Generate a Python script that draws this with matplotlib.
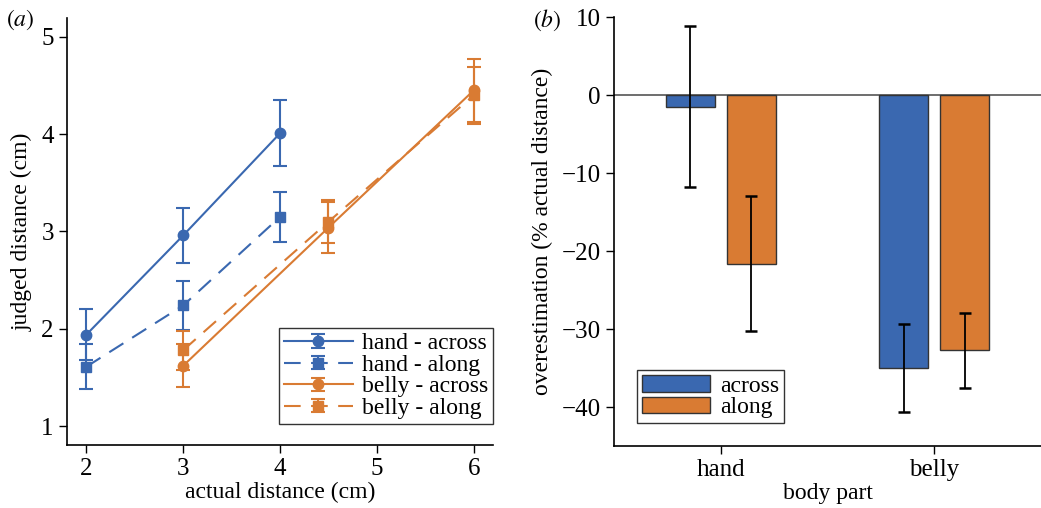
import matplotlib
matplotlib.use('Agg')
import matplotlib.pyplot as plt
from matplotlib.legend_handler import HandlerErrorbar
from matplotlib.container import ErrorbarContainer
import numpy as np

plt.rcParams['font.family'] = ['Liberation Serif', 'DejaVu Serif']
plt.rcParams['mathtext.fontset'] = 'stix'

BLUE = '#3a68b0'
ORANGE = '#d97b33'

# ── panel (a): judged vs actual distance ─────────────────────────────────────
hand_x = [2, 3, 4]
hand_across = [1.94, 2.96, 4.01]
hand_across_err = [0.26, 0.28, 0.34]
hand_along = [1.61, 2.24, 3.15]
hand_along_err = [0.23, 0.25, 0.26]

belly_x = [3, 4.5, 6]
belly_across = [1.62, 3.04, 4.45]
belly_across_err = [0.22, 0.26, 0.32]
belly_along = [1.78, 3.10, 4.40]
belly_along_err = [0.20, 0.22, 0.29]

# ── panel (b): overestimation ────────────────────────────────────────────────
parts = ['hand', 'belly']
over_across = [-1.5, -35.0]
over_across_err = [10.3, 5.7]
over_along = [-21.6, -32.7]
over_along_err = [8.7, 4.8]

TFS = 18   # tick labels
LFS = 17   # axis labels / legends

fig = plt.figure(figsize=(10.41, 5.08), dpi=100)
ax1 = fig.add_axes([0.0644, 0.124, 0.4092, 0.8406])
ax2 = fig.add_axes([0.5898, 0.122, 0.4102, 0.8445])

dash = (0, (8, 5))
kw = dict(lw=1.5, ms=7.5, capsize=5, capthick=1.5, elinewidth=1.5)
ax1.errorbar(hand_x, hand_across, yerr=hand_across_err, color=BLUE,
             marker='o', ls='-', label='hand - across', **kw)
ax1.errorbar(hand_x, hand_along, yerr=hand_along_err, color=BLUE,
             marker='s', ls=dash, label='hand - along', **kw)
ax1.errorbar(belly_x, belly_across, yerr=belly_across_err, color=ORANGE,
             marker='o', ls='-', label='belly - across', **kw)
ax1.errorbar(belly_x, belly_along, yerr=belly_along_err, color=ORANGE,
             marker='s', ls=dash, label='belly - along', **kw)

ax1.set_xlim(1.8, 6.2)
ax1.set_ylim(0.805, 5.195)
ax1.set_xticks([2, 3, 4, 5, 6])
ax1.set_yticks([1, 2, 3, 4, 5])
ax1.set_xlabel('actual distance (cm)', fontsize=LFS, labelpad=1)
ax1.set_ylabel('judged distance (cm)', fontsize=LFS, labelpad=6)
leg1 = ax1.legend(loc='lower right', bbox_to_anchor=(1.0, 0.05),
                  fontsize=LFS, frameon=True, fancybox=False,
                  edgecolor='black', handlelength=2.9, labelspacing=0.0,
                  borderpad=0.2, handletextpad=0.4, borderaxespad=0,
                  handler_map={ErrorbarContainer: HandlerErrorbar(yerr_size=0.28)})
leg1.get_frame().set_linewidth(1.0)

# bars
x = np.arange(len(parts))
off, w = 0.143, 0.23
ax2.bar(x - off, over_across, w, color=BLUE, edgecolor='#333333', lw=1,
        label='across', zorder=2)
ax2.bar(x + off, over_along, w, color=ORANGE, edgecolor='#333333', lw=1,
        label='along', zorder=2)
ax2.errorbar(x - off, over_across, yerr=over_across_err, fmt='none',
             ecolor='black', elinewidth=1.3, capsize=4.5, capthick=1.8, zorder=3)
ax2.errorbar(x + off, over_along, yerr=over_along_err, fmt='none',
             ecolor='black', elinewidth=1.3, capsize=4.5, capthick=1.8, zorder=3)
ax2.axhline(0, color='#555555', lw=1.2, zorder=1)

ax2.set_xlim(-0.5, 1.5)
ax2.set_ylim(-45, 10)
ax2.set_xticks(x)
ax2.set_xticklabels(parts)
ax2.set_yticks([10, 0, -10, -20, -30, -40])
ax2.set_yticklabels(['10', '0', '\u221210', '\u221220', '\u221230', '\u221240'])
ax2.set_xlabel('body part', fontsize=LFS, labelpad=1)
ax2.set_ylabel('overestimation (% actual distance)', fontsize=LFS, labelpad=6)
leg2 = ax2.legend(loc='lower left', bbox_to_anchor=(0.054, 0.054),
                  fontsize=LFS, frameon=True, fancybox=False,
                  edgecolor='black', handlelength=2.9, labelspacing=0.0,
                  borderpad=0.2, handletextpad=0.4, borderaxespad=0)
leg2.get_frame().set_linewidth(1.0)

for ax in (ax1, ax2):
    ax.spines['top'].set_visible(False)
    ax.spines['right'].set_visible(False)
    ax.tick_params(labelsize=TFS, length=6, width=1, direction='out')
    for s in ('left', 'bottom'):
        ax.spines[s].set_linewidth(1.2)

fig.text(0.006, 0.985, r'$(a)$', fontsize=LFS, va='top')
fig.text(0.512, 0.985, r'$(b)$', fontsize=LFS, va='top')

fig.savefig('out.png', dpi=100)
